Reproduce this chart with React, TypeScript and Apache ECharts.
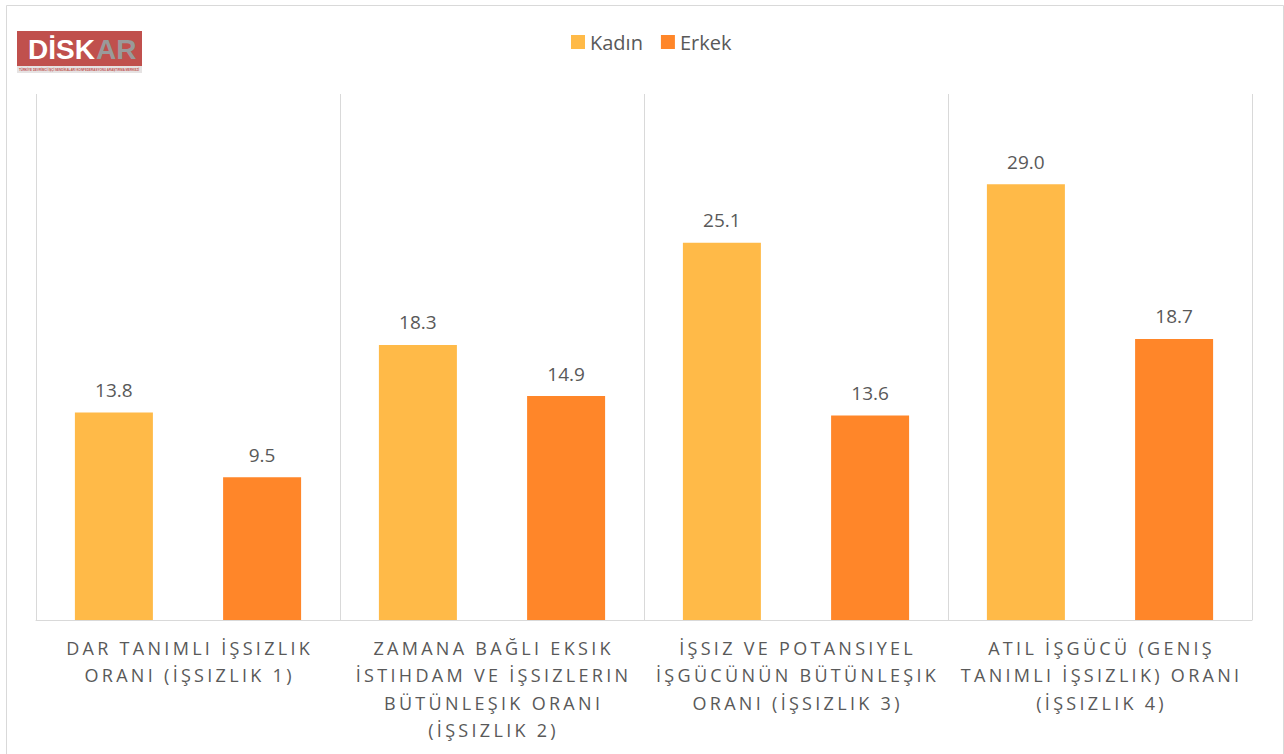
import React, { useEffect, useRef } from "react";
import * as echarts from "echarts";

const categories = [
  "DAR TANIMLI İŞSIZLIK\nORANI (İŞSIZLIK 1)",
  "ZAMANA BAĞLI EKSIK\nİSTIHDAM VE İŞSIZLERIN\nBÜTÜNLEŞIK ORANI\n(İŞSIZLIK 2)",
  "İŞSIZ VE POTANSIYEL\nİŞGÜCÜNÜN BÜTÜNLEŞIK\nORANI (İŞSIZLIK 3)",
  "ATIL İŞGÜCÜ (GENIŞ\nTANIMLI İŞSIZLIK) ORANI\n(İŞSIZLIK 4)",
];
const seriesNames = ["Kadın", "Erkek"];
const kadinValues = [13.8, 18.3, 25.1, 29.0];
const erkekValues = [9.5, 14.9, 13.6, 18.7];
const colors = ["#FFBA48", "#FF8629"];

const FONT = "'Open Sans', 'Noto Sans', sans-serif";
const TEXT_COLOR = "#595959";

export default function App() {
  const ref = useRef<HTMLDivElement>(null);

  useEffect(() => {
    document.body.style.margin = "0";
    if (!ref.current) return;
    const chart = echarts.init(ref.current, undefined, { renderer: "svg" });

    const labelLines = new Set<string>();
    categories.forEach((c) => c.split("\n").forEach((l) => labelLines.add(l)));

    const applySpacing = () => {
      if (!ref.current) return;
      ref.current.querySelectorAll("text").forEach((t) => {
        const s = (t.textContent || "").trim();
        if (labelLines.has(s)) {
          t.setAttribute("letter-spacing", "3.3");
          t.setAttribute("dx", "1.6");
        }
      });
    };

    const option: echarts.EChartsOption = {
      animation: false,
      backgroundColor: "#ffffff",
      textStyle: { fontFamily: FONT },
      legend: {
        data: seriesNames,
        left: 566,
        top: 27,
        icon: "rect",
        itemWidth: 14,
        itemHeight: 14,
        itemGap: 18,
        textStyle: { color: TEXT_COLOR, fontSize: 20, fontFamily: FONT },
      },
      grid: { left: 36, right: 32, top: 94, bottom: 134 },
      xAxis: {
        type: "category",
        data: categories,
        axisLine: { lineStyle: { color: "#d9d9d9", width: 1 } },
        axisTick: { show: false },
        splitLine: { show: true, lineStyle: { color: "#d9d9d9", width: 1 } },
        axisLabel: {
          color: TEXT_COLOR,
          fontSize: 18,
          lineHeight: 27.5,
          margin: 14,
          interval: 0,
          fontFamily: FONT,
        },
      },
      yAxis: {
        type: "value",
        min: 0,
        max: 35,
        axisLabel: { show: false },
        axisLine: { show: false },
        axisTick: { show: false },
        splitLine: { show: false },
      },
      series: [
        {
          name: seriesNames[0],
          type: "bar",
          data: kadinValues,
          barWidth: 78,
          barGap: "90%",
          itemStyle: { color: colors[0] },
          label: {
            show: true,
            position: "top",
            distance: 13,
            color: TEXT_COLOR,
            fontSize: 19,
            fontFamily: FONT,
            formatter: (p: any) => Number(p.value).toFixed(1),
          },
        },
        {
          name: seriesNames[1],
          type: "bar",
          data: erkekValues,
          barWidth: 78,
          barGap: "90%",
          itemStyle: { color: colors[1] },
          label: {
            show: true,
            position: "top",
            distance: 13,
            color: TEXT_COLOR,
            fontSize: 19,
            fontFamily: FONT,
            formatter: (p: any) => Number(p.value).toFixed(1),
          },
        },
      ],
      graphic: [
        {
          type: "rect",
          left: 4,
          top: 3,
          shape: { x: 0, y: 0, width: 1277, height: 750 },
          style: { fill: "none", stroke: "#d9d9d9", lineWidth: 1 },
          silent: true,
        },
        {
          type: "group",
          left: 17,
          top: 31,
          children: [
            {
              type: "rect",
              shape: { x: 0, y: 0, width: 125, height: 35 },
              style: { fill: "#C0504D" },
            },
            {
              type: "rect",
              shape: { x: 0, y: 35, width: 125, height: 7 },
              style: { fill: "#E6E3E3" },
            },
            {
              type: "text",
              x: 11,
              y: 18,
              style: {
                text: "DİSK",
                fill: "#ffffff",
                font: "bold 28px 'Liberation Sans', sans-serif",
                verticalAlign: "middle",
              },
            },
            {
              type: "text",
              x: 79,
              y: 18,
              style: {
                text: "AR",
                fill: "#9a9a9a",
                font: "bold 28px 'Liberation Sans', sans-serif",
                verticalAlign: "middle",
              },
            },
            {
              type: "text",
              x: 62,
              y: 38.5,
              style: {
                text: "TÜRKİYE DEVRİMCİ İŞÇİ SENDİKALARI KONFEDERASYONU ARAŞTIRMA MERKEZİ",
                fill: "#C0504D",
                font: "bold 3px 'Liberation Sans', sans-serif",
                align: "center",
                verticalAlign: "middle",
              },
            },
          ],
        },
      ],
    };

    chart.on("finished", applySpacing);
    chart.setOption(option);
    applySpacing();
    const timer = setTimeout(applySpacing, 50);

    return () => {
      clearTimeout(timer);
      chart.dispose();
    };
  }, []);

  return <div ref={ref} style={{ width: 1284, height: 754 }} />;
}
